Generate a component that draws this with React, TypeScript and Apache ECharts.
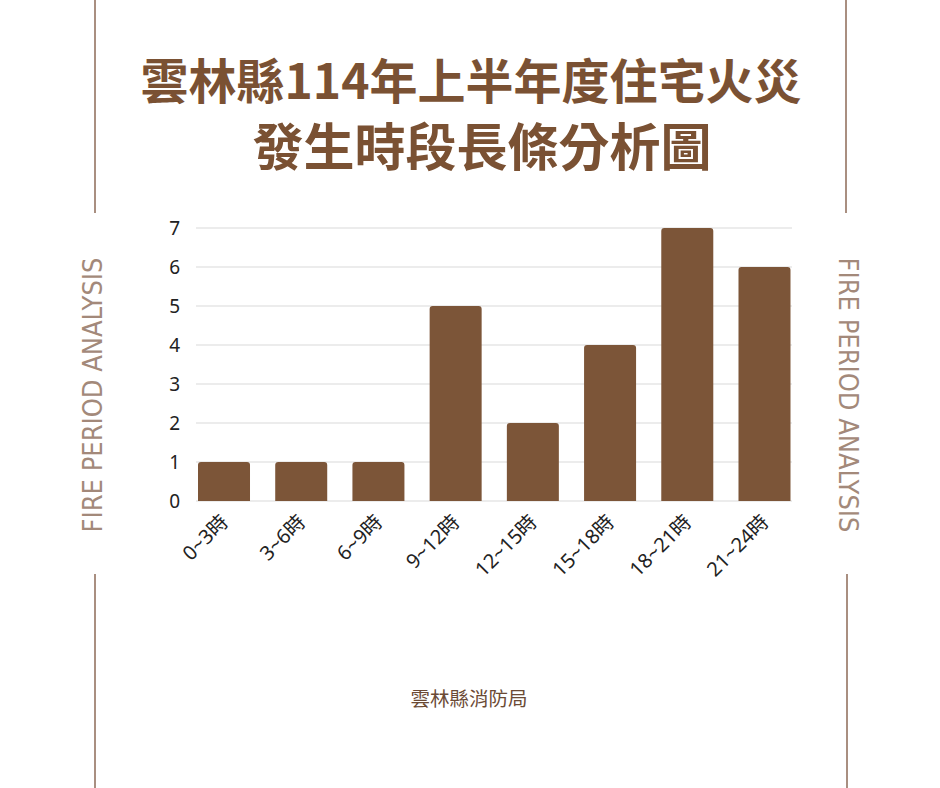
import React, { useEffect, useRef } from "react";
import * as echarts from "echarts";

const categories = ["0~3時", "3~6時", "6~9時", "9~12時", "12~15時", "15~18時", "18~21時", "21~24時"];
const counts = [1, 1, 1, 5, 2, 4, 7, 6];
const titleLine1 = "雲林縣114年上半年度住宅火災";
const titleLine2 = "發生時段長條分析圖";
const sideText = "FIRE PERIOD ANALYSIS";
const footer = "雲林縣消防局";
const yMin = 0;
const yMax = 7;
const yInterval = 1;

const BROWN = "#7c5538";
const TITLE = "#7a5133";
const LINE = "#8c6a57";

export default function App() {
  const ref = useRef<HTMLDivElement>(null);
  useEffect(() => {
    if (!ref.current) return;
    const chart = echarts.init(ref.current, undefined, { renderer: "svg" });
    const cjk = '"Noto Sans CJK TC", "Noto Sans CJK SC", sans-serif';
    chart.setOption({
      animation: false,
      backgroundColor: "#ffffff",
      grid: [
        { left: 196, right: 148, top: 228, bottom: 287 },
        { left: 185.4, right: 136.9, top: 228, bottom: 287 },
      ],
      xAxis: [
        { type: "category", gridIndex: 0, data: categories, show: false },
        {
          type: "category",
          gridIndex: 1,
          data: categories,
          axisLine: { show: false },
          axisTick: { show: false },
          axisLabel: {
            rotate: 45,
            margin: 17,
            fontSize: 20,
            color: "#222222",
            fontFamily: '"Noto Sans", "Noto Sans CJK TC", sans-serif',
          },
        },
      ],
      yAxis: [
        {
          type: "value",
          gridIndex: 0,
          min: yMin,
          max: yMax,
          interval: yInterval,
          axisLine: { show: false },
          axisTick: { show: false },
          splitLine: { lineStyle: { color: "#e6e6e6", width: 1.5 } },
          axisLabel: {
            margin: 16,
            fontSize: 19,
            color: "#222222",
            fontFamily: '"Noto Sans", sans-serif',
          },
        },
        { type: "value", gridIndex: 1, min: yMin, max: yMax, interval: yInterval, show: false, splitLine: { show: false } },
      ],
      series: [
        {
          type: "bar",
          xAxisIndex: 1,
          yAxisIndex: 1,
          data: counts,
          barWidth: 52,
          itemStyle: { color: BROWN, borderRadius: [3, 3, 0, 0] },
        },
      ],
      graphic: [
        {
          type: "text",
          x: 471,
          y: 78,
          style: {
            text: titleLine1,
            fill: TITLE,
            fontSize: 48,
            lineHeight: 54,
            fontWeight: "bold",
            fontFamily: cjk,
            textAlign: "center",
            textVerticalAlign: "middle",
          },
        },
        {
          type: "text",
          x: 482,
          y: 144,
          style: {
            text: titleLine2,
            fill: TITLE,
            fontSize: 51,
            lineHeight: 56,
            fontWeight: "bold",
            fontFamily: cjk,
            textAlign: "center",
            textVerticalAlign: "middle",
          },
        },
        {
          type: "text",
          x: 469,
          y: 697,
          style: {
            text: footer,
            fill: "#6b4a35",
            fontSize: 19.5,
            fontFamily: cjk,
            textAlign: "center",
            textVerticalAlign: "middle",
          },
        },
        {
          type: "text",
          x: 92,
          y: 395,
          rotation: Math.PI / 2,
          style: {
            text: sideText,
            fill: "#a3897a",
            fontSize: 27,
            fontFamily: '"Liberation Sans Narrow", "DejaVu Sans Condensed", sans-serif',
            textAlign: "center",
            textVerticalAlign: "middle",
          },
        },
        {
          type: "text",
          x: 848,
          y: 395,
          rotation: -Math.PI / 2,
          style: {
            text: sideText,
            fill: "#a3897a",
            fontSize: 27,
            fontFamily: '"Liberation Sans Narrow", "DejaVu Sans Condensed", sans-serif',
            textAlign: "center",
            textVerticalAlign: "middle",
          },
        },
        { type: "line", shape: { x1: 95, y1: 0, x2: 95, y2: 213 }, style: { stroke: LINE, lineWidth: 1.5 } },
        { type: "line", shape: { x1: 95, y1: 574, x2: 95, y2: 788 }, style: { stroke: LINE, lineWidth: 1.5 } },
        { type: "line", shape: { x1: 846, y1: 0, x2: 846, y2: 213 }, style: { stroke: LINE, lineWidth: 1.5 } },
        { type: "line", shape: { x1: 847, y1: 574, x2: 847, y2: 788 }, style: { stroke: LINE, lineWidth: 1.5 } },
      ],
    });
    return () => chart.dispose();
  }, []);
  return (
    <div
      ref={ref}
      style={{ position: "fixed", left: 0, top: 0, width: 940, height: 788, background: "#ffffff" }}
    />
  );
}
